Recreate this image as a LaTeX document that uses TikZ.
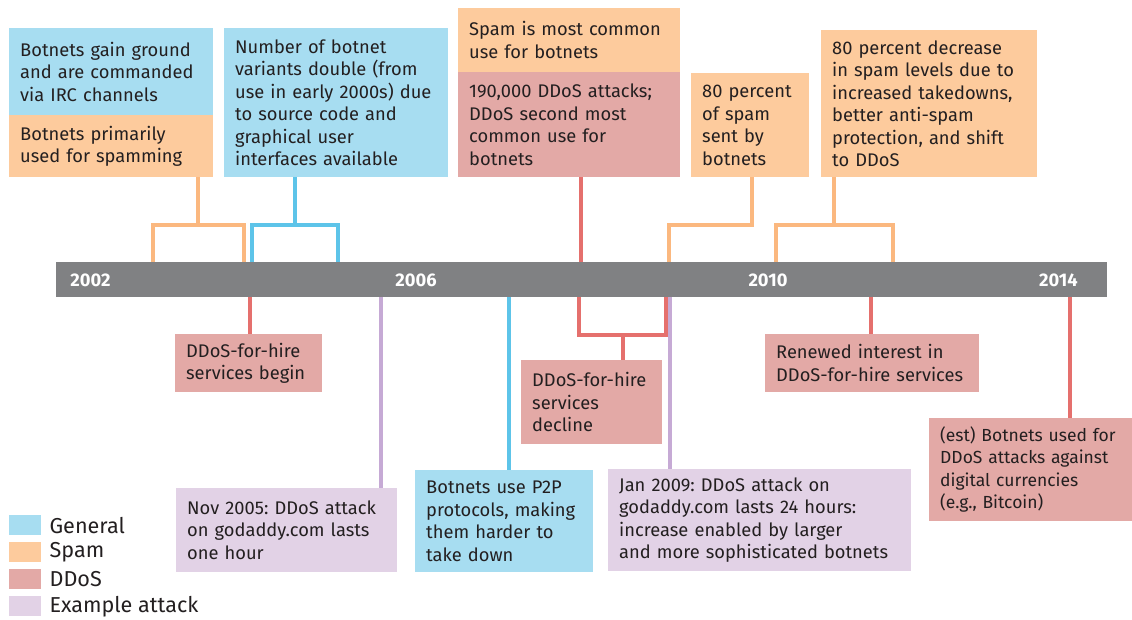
\documentclass[tikz,border=0pt]{standalone}
\usepackage{fontspec}
\setmainfont{Fira Sans}
\usetikzlibrary{positioning}
\definecolor{ink}{HTML}{231F20}
\definecolor{genfill}{HTML}{A7DDF1}
\definecolor{genline}{HTML}{5DC4E9}
\definecolor{spamfill}{HTML}{FDCB9D}
\definecolor{spamline}{HTML}{FBB87F}
\definecolor{ddosfill}{HTML}{E3A9A6}
\definecolor{ddosline}{HTML}{E5706D}
\definecolor{atkfill}{HTML}{E2D2E6}
\definecolor{atkline}{HTML}{C6AAD5}
\definecolor{barc}{HTML}{808183}
\frenchspacing
\hyphenpenalty=10000 \exhyphenpenalty=10000
\begin{document}
\begin{tikzpicture}[x=1pt, y=-1pt, line join=miter, font=\fontsize{18.3}{22.5}\selectfont, text=ink]
  \tikzset{box/.style 2 args={anchor=north west, inner xsep=11pt, inner ysep=0pt, align=left, text width=#1pt, minimum height=#2pt},
    gen/.style={fill=genfill}, spam/.style={fill=spamfill}, ddos/.style={fill=ddosfill}, atk/.style={fill=atkfill},
    link/.style={line width=3.5pt},
    year/.style={text=white, font=\bfseries\fontsize{18.3}{19}\selectfont},
    legsq/.style={anchor=north west, minimum width=32pt, minimum height=20pt, inner sep=0pt},
    legtxt/.style={font=\fontsize{21.6}{23}\selectfont, inner sep=0pt}}
  \useasboundingbox (0,0) rectangle (1132,619);
  % top boxes
  \node[box={182}{87}, gen] (genIRC) at (9,28) {Botnets gain ground\\and are commanded\\via IRC channels};
  \node[box={182}{62}, spam] (spamMain) at (9,115) {Botnets primarily\\used for spamming};
  \node[box={202}{149}, gen] (genVar) at (224,28) {Number of botnet\\variants double (from\\use in early 2000s) due\\to source code and\\graphical user\\interfaces available};
  \node[box={200}{64}, spam] (spamCommon) at (458,8) {Spam is most common\\use for botnets};
  \node[box={200}{105}, ddos] (ddosSecond) at (458,72) {190,000 DDoS attacks;\\DDoS second most\\common use for\\botnets};
  \node[box={96}{104}, spam] (spamEighty) at (691,73) {80 percent\\of spam\\sent by\\botnets};
  \node[box={194}{147}, spam] (spamDrop) at (821,30) {80 percent decrease\\in spam levels due to\\increased takedowns,\\better anti-spam\\protection, and shift\\to DDoS};
  % top connectors
  \coordinate (a1) at (153,262); \coordinate (a2) at (244,262); \coordinate (aj) at (198,225);
  \coordinate (b1) at (252,262); \coordinate (b2) at (338,262); \coordinate (bj) at (295,225);
  \coordinate (c1) at (581,262);
  \coordinate (d1) at (669,262); \coordinate (dj) at (752,225);
  \coordinate (e1) at (776,262); \coordinate (e2) at (893,262); \coordinate (ej) at (834,225);
  \draw[link, spamline] (a1) |- (aj) -| (a2); \draw[link, spamline] (aj) -- (aj |- spamMain.south);
  \draw[link, genline] (b1) |- (bj) -| (b2); \draw[link, genline] (bj) -- (bj |- genVar.south);
  \draw[link, ddosline] (c1) -- (c1 |- ddosSecond.south);
  \draw[link, spamline] (d1) |- (dj) -- (dj |- spamEighty.south);
  \draw[link, spamline] (e1) |- (ej) -| (e2); \draw[link, spamline] (ej) -- (ej |- spamDrop.south);
  % bottom boxes
  \node[box={125}{58}, ddos] (ddosHire) at (175,334) {DDoS-for-hire\\services begin};
  \node[box={199}{84}, atk] (atkNov) at (176,488) {Nov 2005: DDoS attack\\on godaddy.com lasts\\one hour};
  \node[box={156}{102}, gen] (genPtp) at (415,470) {Botnets use P2P\\protocols, making\\them harder to\\take down};
  \node[box={119}{84}, ddos] (ddosDecl) at (521,360) {DDoS-for-hire\\services\\decline};
  \node[box={281}{102}, atk] (atkJan) at (608,469) {Jan 2009: DDoS attack on\\godaddy.com lasts 24 hours:\\increase enabled by larger\\and more sophisticated botnets};
  \node[box={192}{58}, ddos] (ddosRenew) at (765,334) {Renewed interest in\\DDoS-for-hire services};
  \node[box={193}{103}, ddos, font=\fontsize{17.5}{22.5}\selectfont] (ddosCoin) at (929,418) {(est) Botnets used for\\DDoS attacks against\\digital currencies\\(e.g., Bitcoin)};
  % bottom connectors
  \coordinate (f1) at (250,297); \coordinate (g1) at (381,297); \coordinate (h1) at (509,297);
  \coordinate (i1) at (579,297); \coordinate (i2) at (666,297); \coordinate (ij) at (623,335);
  \coordinate (j1) at (670,297); \coordinate (k1) at (871,297); \coordinate (l1) at (1070,297);
  \draw[link, ddosline] (f1) -- (f1 |- ddosHire.north);
  \draw[link, atkline] (g1) -- (g1 |- atkNov.north);
  \draw[link, genline] (h1) -- (h1 |- genPtp.north);
  \draw[link, ddosline] (i1) |- (ij) -| (i2); \draw[link, ddosline] (ij) -- (ij |- ddosDecl.north);
  \draw[link, atkline] (j1) -- (j1 |- atkJan.north);
  \draw[link, ddosline] (k1) -- (k1 |- ddosRenew.north);
  \draw[link, ddosline] (l1) -- (l1 |- ddosCoin.north);
  % timeline
  \node[anchor=north west, fill=barc, minimum width=1051pt, minimum height=35pt, inner sep=0pt] (tl) at (56,262) {};
  \node[year] (y2002) at (90.5,280) {2002};
  \node[year] (y2006) at (416,280) {2006};
  \node[year] (y2010) at (768,280) {2010};
  \node[year] (y2014) at (1058.5,280) {2014};
  % legend
  \node[legsq, gen] (lgGen) at (9,515) {};
  \node[legsq, spam] (lgSpam) at (9,542) {};
  \node[legsq, ddos] (lgDdos) at (9,569) {};
  \node[legsq, atk] (lgAtk) at (9,596) {};
  \node[legtxt, right=8pt of lgGen] {General};
  \node[legtxt, right=8pt of lgSpam] {Spam};
  \node[legtxt, right=8pt of lgDdos] {DDoS};
  \node[legtxt, right=8pt of lgAtk] {Example attack};
\end{tikzpicture}
\end{document}
